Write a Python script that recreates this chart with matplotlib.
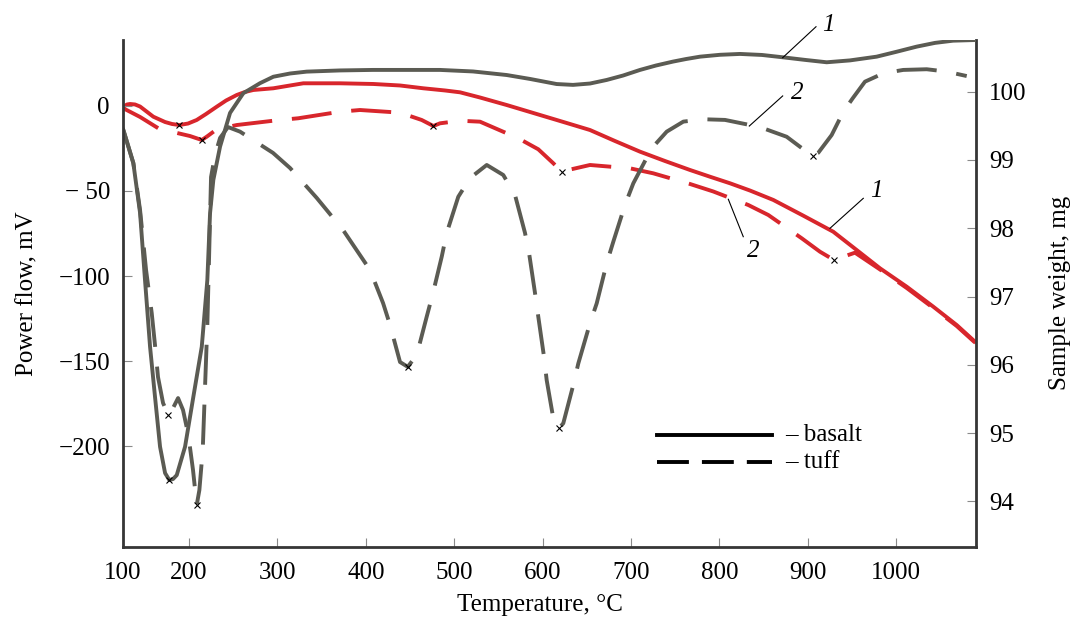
import matplotlib
matplotlib.use("Agg")
import matplotlib.pyplot as plt
from matplotlib.lines import Line2D

# ---------------------------------------------------------------------------
# DTA curves (power flow, mV) - left axis
# ---------------------------------------------------------------------------
basalt_dta_t = [125.7, 137.0, 144.6, 150.2, 155.9, 161.5, 167.2, 172.9, 177.7,
                181.9, 186.1, 195.5, 204.9, 214.4, 220.7, 223.8, 227.5, 235.1,
                246.4, 261.4, 280.3, 295.4, 314.3, 333.1, 370.8, 408.1, 483.9,
                521.3, 559.4, 585.7, 615.9, 634.4, 653.6, 672.5, 691.0, 710.2,
                728.3, 747.5, 762.2, 778.1, 800.7, 823.3, 848.2, 872.3, 896.8,
                921.4, 947.7, 977.9, 999.8, 1023.2, 1043.9, 1064.3, 1090.3]
basalt_dta_mv = [-14.1, -33.7, -62.9, -102.4, -141.6, -171.0, -200.4, -215.9,
                 -220.0, -219.4, -217.1, -200.4, -171.0, -141.6, -102.4, -62.9,
                 -43.5, -23.9, -4.1, 7.5, 13.4, 17.2, 19.1, 20.2, 20.9, 21.2,
                 21.2, 20.3, 18.2, 15.9, 12.9, 12.4, 13.2, 15.3, 17.9, 21.2,
                 23.8, 26.1, 27.6, 29.0, 30.1, 30.6, 30.0, 28.6, 27.1, 25.7,
                 26.8, 29.0, 31.8, 34.9, 37.1, 38.4, 38.8]

tuff_dta_t = [125.7, 137.0, 144.6, 151.4, 157.8, 161.5, 164.9, 170.6, 176.6,
              180.8, 187.6, 193.2, 199.2, 204.5, 208.7, 211.7, 215.5, 218.1,
              220.7, 222.6, 224.9, 229.4, 235.1, 244.1, 257.7, 295.0, 314.3,
              344.5, 374.2, 404.8, 419.5, 427.4, 438.7, 447.4, 457.6, 468.9,
              476.0, 485.9, 491.5, 504.6, 517.9, 536.8, 555.5, 568.8, 580.1,
              585.0, 591.4, 595.1, 601.6, 604.6, 612.1, 618.6, 623.4, 634.7,
              640.4, 653.6, 661.2, 672.5, 680.0, 693.2, 702.6, 723.4, 740.4,
              759.2, 781.8, 806.3, 834.6, 851.6, 876.1, 891.2, 905.5, 911.9,
              927.0, 940.2, 950.8, 964.7, 985.4, 1008.0, 1034.5, 1057.1, 1079.8]
tuff_dta_mv = [-14.1, -33.5, -61.2, -96.5, -121.8, -140.6, -159.4, -174.7,
               -181.8, -178.8, -171.8, -178.8, -193.5, -214.1, -234.7, -225.9,
               -202.4, -165.3, -128.8, -90.6, -41.8, -28.8, -18.8, -12.4, -15.1,
               -27.6, -36.5, -54.1, -72.9, -96.5, -115.9, -128.8, -150.6, -153.4,
               -146.5, -123.9, -110.0, -88.6, -74.7, -53.4, -42.4, -34.7, -40.6,
               -52.4, -74.7, -87.6, -110.0, -123.9, -147.5, -161.2, -183.7,
               -189.6, -186.6, -164.1, -151.4, -127.8, -116.1, -92.5, -79.8,
               -58.2, -45.5, -24.9, -15.1, -9.2, -7.8, -8.2, -11.2, -13.5, -18.1,
               -24.0, -29.4, -27.5, -17.1, -3.4, 4.5, 14.3, 19.2, 21.2, 21.6,
               20.2, 17.6]

# ---------------------------------------------------------------------------
# TG curves (sample weight, mg) - right axis
# ---------------------------------------------------------------------------
basalt_tg_t = [125.7, 129.9, 133.3, 138.9, 144.6, 159.6, 172.9, 180.8, 189.0,
               198.9, 208.7, 219.2, 231.3, 241.9, 254.0, 263.3, 272.7, 295.4,
               314.3, 329.3, 370.8, 408.5, 438.7, 465.0, 489.6, 506.6, 529.2,
               559.4, 585.7, 615.9, 636.7, 653.6, 681.9, 710.2, 738.5, 766.7,
               789.4, 812.0, 834.6, 861.0, 894.6, 928.8, 955.3, 981.7, 1011.9,
               1042.0, 1068.4, 1089.1]
basalt_tg_mg = [99.780, 99.813, 99.820, 99.813, 99.783, 99.634, 99.556, 99.527,
                99.512, 99.534, 99.586, 99.673, 99.780, 99.871, 99.952, 99.996,
                100.025, 100.050, 100.091, 100.123, 100.123, 100.113, 100.091,
                100.050, 100.018, 99.991, 99.915, 99.805, 99.703, 99.586,
                99.505, 99.439, 99.278, 99.122, 98.985, 98.854, 98.755, 98.659,
                98.553, 98.415, 98.187, 97.950, 97.682, 97.414, 97.145, 96.852,
                96.584, 96.340]

tuff_tg_t = [125.7, 144.6, 165.3, 187.9, 201.1, 214.4, 220.0, 231.3, 254.0,
             299.2, 323.6, 370.8, 393.4, 438.7, 463.2, 476.4, 483.9, 506.6,
             529.2, 572.5, 595.1, 612.1, 621.6, 629.1, 653.6, 698.9, 725.2,
             766.7, 793.1, 832.7, 855.3, 893.1, 913.8, 929.6, 953.4, 981.7,
             1011.9, 1042.0, 1068.4, 1089.1]
tuff_tg_mg = [99.757, 99.630, 99.464, 99.391, 99.351, 99.293, 99.341, 99.449,
              99.512, 99.581, 99.611, 99.707, 99.732, 99.693, 99.586, 99.498,
              99.537, 99.575, 99.561, 99.318, 99.157, 98.952, 98.829, 98.854,
              98.927, 98.878, 98.805, 98.649, 98.539, 98.341, 98.195, 97.854,
              97.657, 97.536, 97.643, 97.397, 97.126, 96.833, 96.570, 96.328]

# peaks marked with a cross (indices into the arrays above)
basalt_dta_peaks = [8]
tuff_dta_peaks = [8, 14, 33, 51, 70]
basalt_tg_peaks = [8]
tuff_tg_peaks = [5, 15, 22, 33]

# axis ticks
x_ticks = [125.3, 200, 300, 400, 500, 600, 700, 800, 900, 1000]
x_ticklabels = ["100", "200", "300", "400", "500", "600", "700", "800", "900", "1000"]
mv_ticks = [-200, -150, -100, -50, 0]
mv_ticklabels = ["\u2212200", "\u2212150", "\u2212100", "\u2212 50", "0"]
mg_ticks = [94, 95, 96, 97, 98, 99, 100]

GRAY = "#5b5b53"
RED = "#d8262c"
SPINE = "#363636"
TICK = "#8a8a8a"
FS = 18
LW = 2.8
DASH = (0, (10.3, 5.1))

plt.rcParams["font.family"] = ["Liberation Serif", "DejaVu Serif"]

fig = plt.figure(figsize=(10.72, 6.24), dpi=100)
ax = fig.add_axes([0.11474, 0.12388, 0.79571, 0.81202])
ax2 = ax.twinx()
ax.set_zorder(2)
ax2.set_zorder(1)
ax.patch.set_visible(False)

# TG curves (weight) on the right axis, below the DTA curves
ax2.plot(basalt_tg_t, basalt_tg_mg, color=RED, lw=LW)
ax2.plot(tuff_tg_t, tuff_tg_mg, color=RED, lw=LW, linestyle=DASH)
for t, m, idx in [(basalt_tg_t, basalt_tg_mg, basalt_tg_peaks),
                  (tuff_tg_t, tuff_tg_mg, tuff_tg_peaks)]:
    ax2.plot([t[i] for i in idx], [m[i] for i in idx], linestyle="none",
             marker="x", ms=5, mew=0.8, color="black")

# DTA curves on the left axis
ax.plot(basalt_dta_t, basalt_dta_mv, color=GRAY, lw=LW)
ax.plot(tuff_dta_t, tuff_dta_mv, color=GRAY, lw=LW, linestyle=DASH)
for t, v, idx in [(basalt_dta_t, basalt_dta_mv, basalt_dta_peaks),
                  (tuff_dta_t, tuff_dta_mv, tuff_dta_peaks)]:
    ax.plot([t[i] for i in idx], [v[i] for i in idx], linestyle="none",
            marker="x", ms=5, mew=0.8, color="black")

# limits
ax.set_xlim(125.3, 1090.3)
ax.set_ylim(-259.2, 38.8)
ax2.set_ylim(93.338, 100.757)

# ticks
ax.set_xticks(x_ticks)
ax.set_xticklabels(x_ticklabels)
ax.set_yticks(mv_ticks)
ax.set_yticklabels(mv_ticklabels)
ax2.set_yticks(mg_ticks)
ax.tick_params(axis="x", direction="in", length=6.5, width=0.8, color=TICK,
               labelsize=FS, pad=11)
ax.tick_params(axis="y", direction="in", length=6.5, width=0.8, color=TICK,
               labelsize=FS, pad=9.4)
ax2.tick_params(axis="y", direction="in", length=6.5, width=0.8, color=TICK,
                labelsize=FS, pad=9.6)

# spines
for a in (ax, ax2):
    a.spines["top"].set_visible(False)
ax.spines["right"].set_visible(False)
ax2.spines["left"].set_visible(False)
ax2.spines["bottom"].set_visible(False)
for s in ("left", "bottom"):
    ax.spines[s].set_color(SPINE)
    ax.spines[s].set_linewidth(2.0)
ax2.spines["right"].set_color(SPINE)
ax2.spines["right"].set_linewidth(2.0)

# axis labels
ax.set_xlabel("Temperature, \u00b0C", fontsize=FS, va="center")
ax.xaxis.set_label_coords(0.489, -0.115)
ax.set_ylabel("Power flow, mV", fontsize=FS, va="center")
ax.yaxis.set_label_coords(-0.1125, 0.5)
ax2.set_ylabel("Sample weight, mg", fontsize=FS, va="center", rotation=90)
ax2.yaxis.set_label_coords(1.0985, 0.5)

# curve numbers with leader lines
lead = dict(color="black", lw=0.8, clip_on=False)
ax.plot([871.6, 909.3], [28.4, 46.6], **lead)
ax.text(922.9, 47.6, "1", fontsize=FS, style="italic", ha="center", va="center")
ax.plot([833.8, 871.6], [-11.8, 5.9], **lead)
ax.text(888.3, 7.9, "2", fontsize=FS, style="italic", ha="center", va="center")
ax2.plot([925.1, 962.8], [98.0, 98.439], **lead)
ax2.text(977.1, 98.539, "1", fontsize=FS, style="italic", ha="center", va="center")
ax2.plot([810.1, 827.0], [98.425, 97.877], **lead)
ax2.text(838.3, 97.668, "2", fontsize=FS, style="italic", ha="center", va="center")

# legend drawn by hand, as in the original figure
ax.add_line(Line2D([0.6264, 0.7605], [0.2204, 0.2204], transform=ax.transAxes,
                   color="black", lw=LW))
ax.add_line(Line2D([0.6264, 0.7605], [0.1678, 0.1678], transform=ax.transAxes,
                   color="black", lw=LW, linestyle=(0, (8.2, 3.35))))
ax.text(0.776, 0.2204, "\u2013 basalt", transform=ax.transAxes, fontsize=FS,
        ha="left", va="center")
ax.text(0.776, 0.1678, "\u2013 tuff", transform=ax.transAxes, fontsize=FS,
        ha="left", va="center")

fig.savefig("out.png", dpi=100)
